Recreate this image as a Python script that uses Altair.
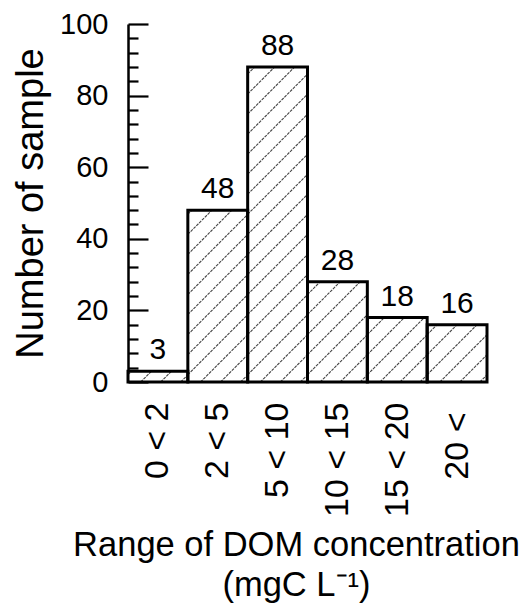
import json
import altair as alt
import pandas as pd

# ---- data ----
labels = ["0 < 2", "2 < 5", "5 < 10", "10 < 15", "15 < 20", "20 <"]
counts = [3, 48, 88, 28, 18, 16]
major_ticks = [0, 20, 40, 60, 80, 100]
minor_ticks = list(range(0, 101, 4))

FONT = "Liberation Sans"
PLOT_W = 359
PLOT_H = 358

df = pd.DataFrame({"idx": list(range(len(labels))), "label": labels, "count": counts})
tick_df = pd.DataFrame({"tv": minor_ticks})

xscale = alt.Scale(domain=[0, len(labels)], nice=False, zero=False)
yscale = alt.Scale(domain=[0, 100], nice=False)

label_expr = json.dumps(labels, ensure_ascii=False) + "[floor(datum.value)]"

x_axis = alt.Axis(values=[i + 0.5 for i in range(len(labels))], labelExpr=label_expr,
                  labelAngle=-90, labelAlign="right", labelBaseline="middle",
                  labelFontSize=34, labelFont=FONT, labelColor="black",
                  ticks=False, domain=False, grid=False,
                  labelPadding={"condition": {"test": f"datum.value > {len(labels) - 1}",
                                              "value": 30},
                                "value": 20},
                  title=["Range of DOM concentration", "(mgC L\u207b\u00b9)"],
                  titleFontSize=34.5, titleFont=FONT, titleFontWeight="normal",
                  titleColor="black", titlePadding=12, titleLineHeight=40,
                  titleX=168, titleAnchor="middle")
y_axis = alt.Axis(values=major_ticks, ticks=False, labelPadding=20,
                  labelFontSize=29, labelFont=FONT, labelColor="black",
                  domain=True, domainColor="black", domainWidth=2.5,
                  grid=False, title="Number of sample", titleFontSize=38,
                  titleFont=FONT, titleFontWeight="normal", titleColor="black",
                  titlePadding=9, orient="left")

# second axis placed on the left edge, ticks pointing into the plot, drawn on top
major_test = "indexof(" + json.dumps(major_ticks) + ", datum.value) >= 0"
tick_axis = alt.Axis(orient="right", offset=-PLOT_W, values=minor_ticks,
                     labels=False, domain=False, grid=False, title=None,
                     ticks=True, tickColor="black", tickWidth=2.2, tickOpacity=1,
                     zindex=1,
                     tickSize={"condition": {"test": major_test, "value": 20}, "value": 10})

base = alt.Chart(df).transform_calculate(
    x0="datum.idx", x1="datum.idx + 1", xm="datum.idx + 0.5", zero="0"
)

# white fill of bars
bars_fill = base.mark_rect(fill="white").encode(
    x=alt.X("x0:Q", scale=xscale, axis=x_axis),
    x2="x1:Q",
    y=alt.Y("zero:Q", scale=yscale, axis=y_axis),
    y2="count:Q",
)

# hatch lines (45 degrees), computed from each bar's value
SLOPE = 16.76   # count units per bar-width for a 45 degree line
SPACE = 5.6     # vertical spacing of hatch lines, in count units
hatch = base.transform_calculate(
    j="sequence(0, 30)"
).transform_flatten(["j"]).transform_calculate(
    c=f"datum.j * {SPACE} - {SLOPE} + 2",
).transform_calculate(
    u0=f"max(0, -datum.c / {SLOPE})",
    u1=f"min(1, (datum.count - datum.c) / {SLOPE})",
).transform_filter("datum.u0 < datum.u1").transform_calculate(
    hx0="datum.idx + datum.u0",
    hx1="datum.idx + datum.u1",
    hy0=f"datum.c + {SLOPE} * datum.u0",
    hy1=f"datum.c + {SLOPE} * datum.u1",
).mark_rule(color="#444444", strokeWidth=1.1, strokeDash=[3, 1]).encode(
    x=alt.X("hx0:Q", scale=xscale, axis=x_axis),
    x2="hx1:Q",
    y=alt.Y("hy0:Q", scale=yscale, axis=y_axis),
    y2="hy1:Q",
)

outline = base.mark_rect(
    fill=None, fillOpacity=0, stroke="black", strokeWidth=3
).encode(
    x=alt.X("x0:Q", scale=xscale, axis=x_axis),
    x2="x1:Q",
    y=alt.Y("zero:Q", scale=yscale, axis=y_axis),
    y2="count:Q",
)

values_text = base.mark_text(
    baseline="alphabetic", dy=-12, fontSize=30, font=FONT, color="black"
).encode(
    x=alt.X("xm:Q", scale=xscale, axis=x_axis),
    y=alt.Y("count:Q", scale=yscale, axis=y_axis),
    text="count:Q",
)

main = alt.layer(bars_fill, hatch, outline, values_text)

# invisible layer that only carries the inward tick axis
tick_layer = alt.Chart(tick_df).mark_point(opacity=0).encode(
    y=alt.Y("tv:Q", scale=yscale, axis=tick_axis),
)

chart = alt.layer(main, tick_layer).resolve_axis(y="independent").properties(
    width=PLOT_W,
    height=PLOT_H,
    autosize=alt.AutoSizeParams(type="none"),
    padding={"left": 128, "top": 24, "right": 39, "bottom": 227},
    background="white",
).configure_view(stroke=None)

chart.save("out.html", embed_options={"renderer": "svg", "actions": False})
